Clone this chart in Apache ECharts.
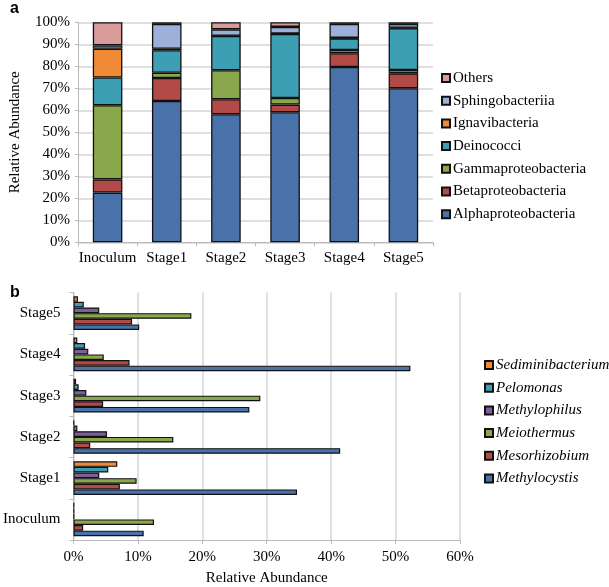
<!DOCTYPE html>
<html><head><meta charset="utf-8">
<script src="https://cdn.jsdelivr.net/npm/echarts@6/dist/echarts.min.js"></script>
<style>html,body{margin:0;padding:0;background:#fff}#c{width:609px;height:587px}</style>
</head><body><div id="c"></div>
<script>
var categories = ['Inoculum','Stage1','Stage2','Stage3','Stage4','Stage5'];
var yTickLabels = ['0%','10%','20%','30%','40%','50%','60%','70%','80%','90%','100%'];
// Panel a (stacked %)
var alpha   = [22.6, 64.2, 58.2, 59.1, 79.7, 70.0];
var beta    = [6.0, 10.5, 6.8, 3.5, 6.2, 6.8];
var gamma   = [33.7, 2.4, 13.2, 3.0, 1.5, 1.5];
var deino   = [12.6, 10.2, 15.6, 29.1, 5.3, 19.0];
var ignavi  = [13.1, 0.7, 0.1, 0.2, 0.2, 0.2];
var sphingo = [1.5, 11.3, 2.9, 3.0, 6.4, 1.8];
var others  = [10.5, 0.7, 3.2, 2.1, 0.7, 0.7];
// Panel b (%)
var methylocystis     = [10.9, 34.7, 41.4, 27.3, 52.3, 10.2];
var mesorhizobium     = [1.5, 7.2, 2.6, 4.6, 8.7, 9.1];
var meiothermus       = [12.5, 9.8, 15.5, 29.0, 4.7, 18.3];
var methylophilus     = [0.1, 4.0, 5.2, 2.0, 2.3, 4.0];
var pelomonas         = [0.1, 5.4, 0.6, 0.8, 1.8, 1.6];
var sediminibacterium = [0.1, 6.8, 0.1, 0.4, 0.6, 0.7];

var C = {alpha:'#4a72aa', beta:'#b24a48', gamma:'#8aa74c', deino:'#3d9fb4', ignavi:'#ef8a36', sphingo:'#9db1d8', others:'#d99b9a', purple:'#7b609c'};
var F = 'Liberation Serif, Times New Roman, serif';

function topSeries(name, data, color){
  return {name:name, type:'bar', stack:'a', xAxisIndex:0, yAxisIndex:0, data:data, barWidth:'50%',
    itemStyle:{color:color, borderColor:'#111', borderWidth:1.3}};
}
function botSeries(name, data, color){
  return {name:name, type:'bar', xAxisIndex:1, yAxisIndex:1, data:data, barGap:'0%', barCategoryGap:'18%',
    itemStyle:{color:color, borderColor:'#111', borderWidth:1.2}};
}
var chart = echarts.init(document.getElementById('c'));
chart.setOption({
  animation:false,
  textStyle:{fontFamily:F},
  graphic:[
    {type:'text', left:10, top:1, style:{text:'a', font:'bold 16px Liberation Sans, Arial', fill:'#000'}},
    {type:'text', left:10, top:285, style:{text:'b', font:'bold 16px Liberation Sans, Arial', fill:'#000'}}
  ],
  grid:[
    {left:74, top:22.3, width:359, height:220},
    {left:73, top:292.5, width:387, height:249.5}
  ],
  xAxis:[
    {type:'category', gridIndex:0, data:categories,
      axisLine:{lineStyle:{color:'#bbb'}}, axisTick:{show:true, alignWithLabel:false, interval:0, lineStyle:{color:'#bbb'}, length:4},
      axisLabel:{color:'#000', fontSize:15, fontFamily:F, margin:8, interval:0}},
    {type:'value', gridIndex:1, min:0, max:60, interval:10,
      axisLine:{show:true, lineStyle:{color:'#bbb'}}, axisTick:{show:true, lineStyle:{color:'#bbb'}, length:4},
      splitLine:{show:true, lineStyle:{color:'#d4d4d4', width:1.5}},
      axisLabel:{color:'#000', fontSize:15, fontFamily:F, margin:10, formatter:'{value}%'},
      name:'Relative Abundance', nameLocation:'middle', nameGap:31, nameTextStyle:{color:'#000', fontSize:15, fontFamily:F}}
  ],
  yAxis:[
    {type:'value', gridIndex:0, min:0, max:100, interval:10,
      axisLine:{show:true, lineStyle:{color:'#bbb'}}, axisTick:{show:true, lineStyle:{color:'#bbb'}, length:3},
      splitLine:{show:true, lineStyle:{color:'#d4d4d4', width:1.5}},
      axisLabel:{color:'#000', fontSize:15, fontFamily:F, margin:8, formatter:function(v){return yTickLabels[Math.round(v/10)];}},
      name:'Relative Abundance', nameLocation:'middle', nameGap:55, nameRotate:90, nameTextStyle:{color:'#000', fontSize:15, fontFamily:F}},
    {type:'category', gridIndex:1, data:categories,
      axisLine:{show:true, lineStyle:{color:'#bbb'}}, axisTick:{show:true, interval:0, lineStyle:{color:'#bbb'}, length:4},
      axisLabel:{color:'#000', fontSize:15, fontFamily:F, margin:13, interval:0}}
  ],
  legend:[
    {orient:'vertical', left:436, top:65.5, itemWidth:8, itemHeight:8, itemGap:7.7, icon:'rect',
      textStyle:{fontSize:15, fontFamily:F, color:'#000', lineHeight:15, padding:[0,0,0,-2]},
      data:['Others','Sphingobacteriia','Ignavibacteria','Deinococci','Gammaproteobacteria','Betaproteobacteria','Alphaproteobacteria']},
    {orient:'vertical', left:479, top:352.5, itemWidth:8, itemHeight:8, itemGap:7.7, icon:'rect',
      textStyle:{fontSize:15, fontFamily:F, fontStyle:'italic', color:'#000', lineHeight:15, padding:[0,0,0,-2]},
      data:['Sediminibacterium','Pelomonas','Methylophilus','Meiothermus','Mesorhizobium','Methylocystis']}
  ],
  series:[
    topSeries('Alphaproteobacteria', alpha, C.alpha),
    topSeries('Betaproteobacteria', beta, C.beta),
    topSeries('Gammaproteobacteria', gamma, C.gamma),
    topSeries('Deinococci', deino, C.deino),
    topSeries('Ignavibacteria', ignavi, C.ignavi),
    topSeries('Sphingobacteriia', sphingo, C.sphingo),
    topSeries('Others', others, C.others),
    botSeries('Sediminibacterium', sediminibacterium, C.ignavi),
    botSeries('Pelomonas', pelomonas, C.deino),
    botSeries('Methylophilus', methylophilus, C.purple),
    botSeries('Meiothermus', meiothermus, C.gamma),
    botSeries('Mesorhizobium', mesorhizobium, C.beta),
    botSeries('Methylocystis', methylocystis, C.alpha)
  ]
});
</script></body></html>
